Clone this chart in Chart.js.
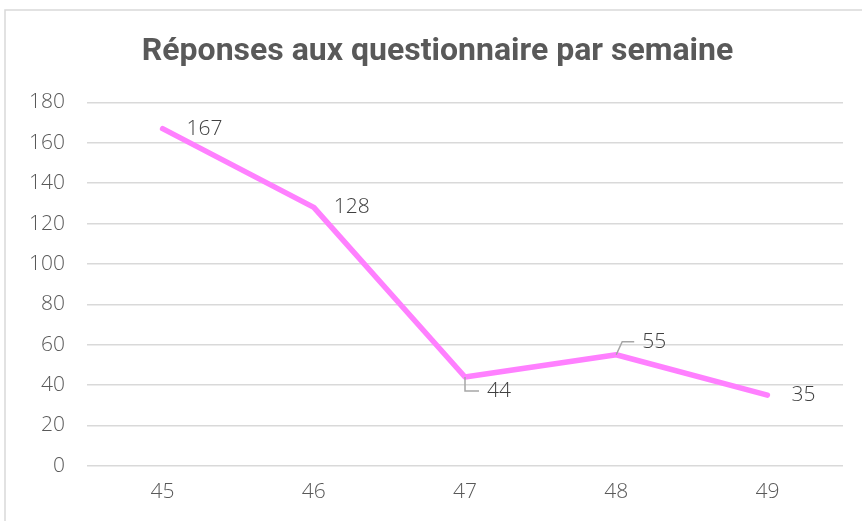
<!DOCTYPE html>
<html lang="fr">
<head>
<meta charset="utf-8">
<title>Réponses aux questionnaire par semaine</title>
<script src="https://cdn.jsdelivr.net/npm/chart.js@4/dist/chart.umd.min.js"></script>
<style>
  html, body { margin: 0; padding: 0; background: #fff; }
  #wrap { position: relative; width: 862px; height: 521px; }
</style>
</head>
<body>
<div id="wrap"><canvas id="chartReponses"></canvas></div>
<script>
// données
const semaines = ["45", "46", "47", "48", "49"];
const reponses = [167, 128, 44, 55, 35];
const yMin = 0;
const yMax = 180;
const yStep = 20;

// cadre gris clair autour du graphique + titre un peu décalé à droite
const cadre = {
    id: 'cadre',
    afterLayout(chart) {
        if (chart.titleBlock) {
            chart.titleBlock.left += 16;
            chart.titleBlock.right += 16;
        }
    },
    beforeDraw(chart) {
        const ctx = chart.ctx;
        ctx.save();
        ctx.fillStyle = '#fff';
        ctx.fillRect(0, 0, chart.width, chart.height);
        ctx.strokeStyle = '#D9D9D9';
        ctx.lineWidth = 1.5;
        ctx.strokeRect(5, 10, chart.width + 20, chart.height + 20);
        ctx.restore();
    }
};

// étiquettes de données (avec traits de rappel pour 44 et 55)
const etiquettes = {
    id: 'etiquettes',
    afterDatasetsDraw(chart, args, opts) {
        const ctx = chart.ctx;
        const meta = chart.getDatasetMeta(0);
        const data = chart.data.datasets[0].data;
        ctx.save();
        ctx.font = '300 21px "Open Sans", sans-serif';
        ctx.fillStyle = '#404040';
        ctx.textBaseline = 'middle';
        ctx.textAlign = 'left';
        meta.data.forEach((pt, i) => {
            const o = opts.decalages[i];
            const x = pt.x + o[0];
            const y = pt.y + o[1];
            if (o.length > 2) {
                ctx.strokeStyle = '#A6A6A6';
                ctx.lineWidth = 1.5;
                ctx.beginPath();
                ctx.moveTo(pt.x, pt.y);
                ctx.lineTo(pt.x + o[2], y);
                ctx.lineTo(x - 8, y);
                ctx.stroke();
            }
            ctx.fillText(String(data[i]), x, y);
        });
        ctx.restore();
    }
};

new Chart(document.getElementById('chartReponses'), {
    type: 'line',
    data: {
        labels: semaines,
        datasets: [{
            label: 'Réponses',
            data: reponses,
            borderColor: '#FF80FF',
            backgroundColor: '#FF80FF',
            borderWidth: 5.5,
            borderCapStyle: 'round',
            borderJoinStyle: 'round',
            pointRadius: 0,
            pointHoverRadius: 0,
            tension: 0
        }]
    },
    options: {
        responsive: true,
        maintainAspectRatio: false,
        animation: false,
        events: [],
        layout: { padding: { left: 0, right: 19, top: 16, bottom: 2 } },
        plugins: {
            legend: { display: false },
            tooltip: { enabled: false },
            title: {
                display: true,
                text: 'Réponses aux questionnaire par semaine',
                color: '#595959',
                font: { family: 'Roboto', size: 32, weight: 'bold' },
                padding: { top: 17, bottom: 31 }
            },
            etiquettes: {
                decalages: [[24, 0], [20, 0], [22, 14, 0], [26, -13, 6], [24, 0]]
            }
        },
        scales: {
            x: {
                offset: true,
                grid: { display: false, drawTicks: false },
                border: { display: false },
                ticks: {
                    color: '#595959',
                    padding: 14,
                    font: { family: '"Open Sans"', size: 21, weight: 300 }
                }
            },
            y: {
                min: yMin,
                max: yMax,
                afterFit(scale) { scale.width = 87; },
                grid: { color: '#D9D9D9', lineWidth: 1.5, drawTicks: false },
                border: { display: false },
                ticks: {
                    stepSize: yStep,
                    color: '#595959',
                    padding: 22,
                    font: { family: '"Open Sans"', size: 21, weight: 300 }
                }
            }
        }
    },
    plugins: [cadre, etiquettes]
});
</script>
</body>
</html>
